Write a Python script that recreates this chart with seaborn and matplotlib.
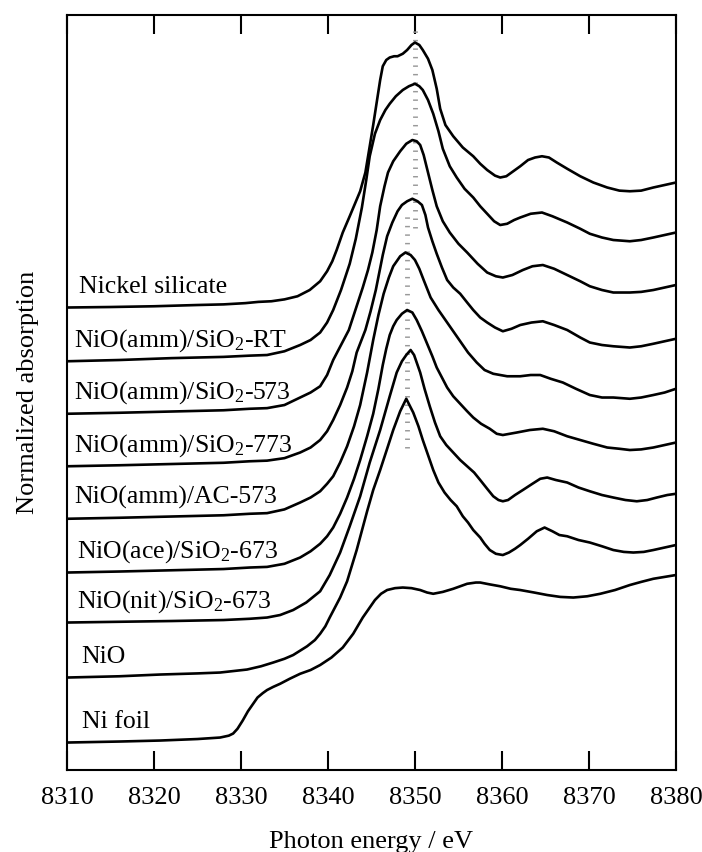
import numpy as np
import pandas as pd
import matplotlib
matplotlib.use("Agg")
import matplotlib.pyplot as plt
import seaborn as sns

# Ni K-edge XANES spectra, normalized absorption (stacked with vertical offsets)
samples = [
    "Nickel silicate",
    "NiO(amm)/SiO$_\\mathregular{2}$-RT",
    "NiO(amm)/SiO$_\\mathregular{2}$-573",
    "NiO(amm)/SiO$_\\mathregular{2}$-773",
    "NiO(amm)/AC-573",
    "NiO(ace)/SiO$_\\mathregular{2}$-673",
    "NiO(nit)/SiO$_\\mathregular{2}$-673",
    "NiO",
    "Ni foil",
]
offsets = [3.70, 3.27, 2.85, 2.43, 2.01, 1.58, 1.18, 0.74, 0.22]

e_silicate = [8310.0, 8315.0, 8320.0, 8325.0, 8328.0, 8330.5, 8332.0, 8333.5, 8335.0, 8336.5,
              8337.9, 8339.1, 8339.9, 8340.5, 8341.0, 8341.7, 8342.5, 8343.1, 8343.7, 8344.3,
              8344.8, 8345.2, 8345.6, 8346.0, 8346.3, 8346.7, 8347.1, 8347.6, 8348.0, 8348.6,
              8349.1, 8349.6, 8350.0, 8350.5, 8350.9, 8351.5, 8352.0, 8352.5, 8352.9, 8353.5,
              8354.4, 8355.5, 8356.7, 8357.5, 8358.3, 8359.2, 8359.8, 8360.5, 8361.3, 8362.1,
              8363.0, 8363.8, 8364.6, 8365.4, 8366.3, 8367.5, 8369.0, 8370.5, 8372.1, 8373.5,
              8374.7, 8376.0, 8377.4, 8378.7, 8380.0]
mu_silicate = [0.000, 0.004, 0.010, 0.020, 0.025, 0.035, 0.045, 0.050, 0.065, 0.090,
               0.140, 0.210, 0.290, 0.370, 0.460, 0.600, 0.730, 0.830, 0.930, 1.080,
               1.290, 1.460, 1.640, 1.820, 1.930, 1.980, 2.000, 2.010, 2.010, 2.030,
               2.060, 2.100, 2.120, 2.100, 2.060, 1.990, 1.900, 1.750, 1.590, 1.460,
               1.370, 1.280, 1.210, 1.150, 1.100, 1.055, 1.040, 1.050, 1.090, 1.130,
               1.180, 1.200, 1.210, 1.200, 1.160, 1.110, 1.050, 1.000, 0.960, 0.935,
               0.930, 0.935, 0.960, 0.980, 1.000]

e_amm_rt = [8310.0, 8316.0, 8322.0, 8328.0, 8331.0, 8333.0, 8335.0, 8336.8, 8338.0, 8339.1,
            8339.9, 8340.6, 8341.5, 8342.5, 8343.2, 8343.9, 8344.4, 8344.8, 8345.4, 8346.0,
            8346.6, 8347.1, 8347.8, 8348.6, 8349.3, 8350.0, 8350.5, 8350.9, 8351.5, 8352.1,
            8352.7, 8353.2, 8354.0, 8354.8, 8355.7, 8356.7, 8357.5, 8358.3, 8359.1, 8359.8,
            8360.6, 8361.4, 8362.1, 8363.3, 8364.6, 8365.8, 8367.5, 8369.0, 8370.1, 8371.5,
            8372.8, 8374.7, 8376.0, 8377.4, 8378.7, 8380.0]
mu_amm_rt = [0.000, 0.010, 0.025, 0.035, 0.045, 0.050, 0.080, 0.130, 0.170, 0.230,
             0.310, 0.410, 0.570, 0.780, 0.980, 1.230, 1.450, 1.640, 1.820, 1.930,
             2.010, 2.060, 2.120, 2.170, 2.200, 2.220, 2.200, 2.170, 2.090, 1.980,
             1.840, 1.700, 1.560, 1.470, 1.380, 1.310, 1.240, 1.180, 1.120, 1.090,
             1.100, 1.130, 1.150, 1.180, 1.190, 1.160, 1.110, 1.060, 1.020, 0.990,
             0.970, 0.960, 0.970, 0.990, 1.010, 1.030]

e_amm_573 = [8310.0, 8316.0, 8322.0, 8328.0, 8331.0, 8333.0, 8335.0, 8336.8, 8338.0, 8339.1,
             8339.9, 8340.6, 8341.5, 8342.4, 8343.2, 8344.0, 8344.6, 8345.1, 8345.6, 8346.0,
             8346.5, 8346.9, 8347.5, 8348.3, 8349.0, 8349.7, 8350.2, 8350.6, 8351.0, 8351.5,
             8352.0, 8352.5, 8353.2, 8354.0, 8355.0, 8356.0, 8357.2, 8358.3, 8359.3, 8360.1,
             8361.2, 8362.4, 8363.5, 8364.7, 8366.0, 8367.5, 8369.0, 8370.1, 8371.5, 8372.8,
             8374.7, 8376.0, 8377.4, 8378.7, 8380.0]
mu_amm_573 = [0.000, 0.008, 0.018, 0.028, 0.040, 0.045, 0.070, 0.130, 0.170, 0.220,
              0.310, 0.430, 0.550, 0.670, 0.840, 1.010, 1.150, 1.290, 1.470, 1.660,
              1.820, 1.930, 2.020, 2.100, 2.160, 2.190, 2.180, 2.150, 2.070, 1.930,
              1.790, 1.660, 1.540, 1.450, 1.360, 1.290, 1.200, 1.130, 1.100, 1.090,
              1.110, 1.150, 1.180, 1.190, 1.160, 1.110, 1.060, 1.020, 0.990, 0.970,
              0.970, 0.975, 0.990, 1.010, 1.030]

e_amm_773 = [8310.0, 8316.0, 8322.0, 8328.0, 8331.0, 8333.0, 8335.0, 8336.8, 8338.0, 8339.1,
             8339.9, 8340.6, 8341.4, 8342.2, 8342.8, 8343.3, 8343.8, 8344.3, 8344.9, 8345.5,
             8346.3, 8346.8, 8347.4, 8348.0, 8348.5, 8349.1, 8349.7, 8350.3, 8350.8, 8351.2,
             8351.5, 8352.0, 8352.5, 8353.1, 8353.7, 8354.4, 8355.2, 8356.0, 8356.7, 8357.5,
             8358.3, 8359.2, 8360.1, 8361.1, 8362.1, 8363.4, 8364.7, 8366.0, 8367.5, 8369.0,
             8370.1, 8371.5, 8372.8, 8374.7, 8376.0, 8377.4, 8378.7, 8380.0]
mu_amm_773 = [0.000, 0.008, 0.018, 0.028, 0.040, 0.045, 0.065, 0.110, 0.150, 0.210,
              0.280, 0.370, 0.490, 0.630, 0.760, 0.910, 1.000, 1.090, 1.240, 1.410,
              1.690, 1.840, 1.950, 2.040, 2.090, 2.120, 2.140, 2.120, 2.090, 2.010,
              1.910, 1.800, 1.700, 1.590, 1.490, 1.430, 1.380, 1.310, 1.250, 1.190,
              1.150, 1.110, 1.080, 1.100, 1.130, 1.150, 1.160, 1.130, 1.090, 1.030,
              0.990, 0.970, 0.960, 0.950, 0.960, 0.980, 1.000, 1.020]

e_amm_ac = [8310.0, 8316.0, 8322.0, 8328.0, 8331.0, 8333.0, 8335.0, 8336.8, 8338.0, 8339.1,
            8339.9, 8340.6, 8341.4, 8342.2, 8343.0, 8343.7, 8344.5, 8345.2, 8345.8, 8346.4,
            8347.0, 8347.5, 8348.3, 8348.9, 8349.5, 8350.0, 8350.5, 8351.0, 8351.8, 8352.7,
            8353.7, 8354.4, 8355.2, 8356.1, 8357.1, 8358.0, 8359.0, 8360.6, 8362.1, 8363.3,
            8364.4, 8365.6, 8367.0, 8368.5, 8370.1, 8371.5, 8372.8, 8374.7, 8376.0, 8377.4,
            8378.7, 8380.0]
mu_amm_ac = [0.000, 0.008, 0.018, 0.028, 0.040, 0.045, 0.075, 0.130, 0.170, 0.220,
             0.280, 0.340, 0.450, 0.580, 0.740, 0.910, 1.170, 1.430, 1.630, 1.800,
             1.930, 2.020, 2.100, 2.130, 2.110, 2.070, 2.000, 1.910, 1.770, 1.670,
             1.570, 1.500, 1.420, 1.330, 1.250, 1.190, 1.160, 1.140, 1.140, 1.150,
             1.150, 1.120, 1.090, 1.040, 0.990, 0.970, 0.970, 0.960, 0.970, 0.990,
             1.010, 1.040]

e_ace_673 = [8310.0, 8316.0, 8322.0, 8328.0, 8331.0, 8333.0, 8335.0, 8336.8, 8338.0, 8339.1,
             8339.9, 8340.6, 8341.4, 8342.2, 8343.0, 8343.7, 8344.5, 8345.2, 8345.8, 8346.3,
             8346.7, 8347.1, 8347.5, 8347.9, 8348.5, 8349.1, 8349.7, 8350.2, 8350.8, 8351.4,
             8352.0, 8352.5, 8353.1, 8353.7, 8354.4, 8355.2, 8356.0, 8356.7, 8357.6, 8358.6,
             8359.4, 8360.1, 8360.9, 8361.7, 8363.2, 8364.7, 8366.0, 8367.5, 8369.0, 8370.5,
             8372.1, 8373.5, 8374.7, 8376.0, 8377.4, 8378.7, 8380.0]
mu_ace_673 = [0.000, 0.008, 0.018, 0.028, 0.040, 0.045, 0.070, 0.120, 0.170, 0.230,
              0.290, 0.360, 0.470, 0.600, 0.750, 0.900, 1.090, 1.270, 1.470, 1.660,
              1.790, 1.900, 1.970, 2.020, 2.070, 2.100, 2.080, 2.020, 1.930, 1.830,
              1.730, 1.640, 1.560, 1.480, 1.410, 1.350, 1.290, 1.240, 1.190, 1.150,
              1.110, 1.100, 1.110, 1.120, 1.140, 1.150, 1.130, 1.090, 1.060, 1.030,
              1.000, 0.990, 0.980, 0.985, 1.000, 1.020, 1.040]

e_nit_673 = [8310.0, 8316.0, 8322.0, 8328.0, 8331.0, 8333.0, 8334.5, 8336.0, 8337.5, 8339.1,
             8340.2, 8341.4, 8342.5, 8343.7, 8344.8, 8346.0, 8347.1, 8347.9, 8348.5, 8349.0,
             8349.5, 8349.9, 8350.3, 8350.6, 8351.1, 8351.7, 8352.3, 8352.9, 8353.6, 8354.4,
             8355.2, 8356.0, 8356.8, 8357.5, 8358.3, 8359.0, 8359.6, 8360.1, 8360.7, 8361.5,
             8362.4, 8363.5, 8364.4, 8365.2, 8366.2, 8367.5, 8368.8, 8370.1, 8371.5, 8372.8,
             8374.2, 8375.5, 8376.7, 8377.8, 8379.0, 8380.0]
mu_nit_673 = [0.000, 0.006, 0.012, 0.020, 0.030, 0.040, 0.060, 0.100, 0.160, 0.250,
              0.380, 0.560, 0.770, 1.010, 1.280, 1.540, 1.810, 2.000, 2.090, 2.140,
              2.180, 2.140, 2.060, 2.000, 1.870, 1.730, 1.600, 1.490, 1.420, 1.360,
              1.300, 1.250, 1.200, 1.140, 1.070, 1.010, 0.980, 0.970, 0.980, 1.020,
              1.060, 1.110, 1.150, 1.160, 1.140, 1.120, 1.080, 1.050, 1.020, 1.000,
              0.980, 0.970, 0.980, 1.000, 1.020, 1.030]

e_nio = [8310.0, 8316.0, 8320.7, 8325.0, 8327.6, 8330.7, 8332.3, 8333.7, 8335.0, 8336.0,
         8337.6, 8338.5, 8339.1, 8339.7, 8340.2, 8341.4, 8342.2, 8343.3, 8344.5, 8345.2,
         8346.0, 8346.8, 8347.5, 8348.3, 8349.0, 8349.8, 8350.4, 8350.9, 8351.5, 8352.1,
         8352.7, 8353.4, 8354.1, 8354.8, 8355.5, 8356.1, 8356.7, 8357.5, 8358.0, 8358.6,
         8359.3, 8360.1, 8360.8, 8361.5, 8362.1, 8363.0, 8364.0, 8364.9, 8365.8, 8366.6,
         8367.5, 8368.8, 8370.1, 8371.5, 8372.8, 8374.0, 8375.1, 8376.3, 8377.4, 8378.7,
         8380.0]
mu_nio = [0.000, 0.010, 0.024, 0.033, 0.040, 0.064, 0.090, 0.120, 0.150, 0.180,
          0.250, 0.300, 0.350, 0.410, 0.480, 0.640, 0.770, 1.020, 1.330, 1.500,
          1.660, 1.830, 1.980, 2.130, 2.230, 2.120, 2.010, 1.900, 1.780, 1.660,
          1.560, 1.480, 1.420, 1.370, 1.290, 1.240, 1.180, 1.120, 1.070, 1.020,
          0.990, 0.980, 1.000, 1.030, 1.060, 1.110, 1.170, 1.200, 1.170, 1.140,
          1.130, 1.100, 1.080, 1.050, 1.020, 1.005, 1.000, 1.005, 1.020, 1.040,
          1.060]

e_ni_foil = [8310.0, 8316.0, 8320.7, 8325.0, 8327.6, 8328.6, 8329.1, 8329.6, 8330.2, 8330.8,
             8331.4, 8331.9, 8332.5, 8333.0, 8333.7, 8334.5, 8335.6, 8336.8, 8338.0, 8339.1,
             8340.4, 8341.7, 8342.9, 8344.0, 8344.7, 8345.4, 8346.1, 8346.8, 8347.7, 8348.6,
             8349.6, 8350.6, 8351.4, 8352.1, 8353.2, 8354.4, 8355.2, 8356.0, 8357.0, 8357.5,
             8358.6, 8359.8, 8361.0, 8362.1, 8363.7, 8365.2, 8366.7, 8368.2, 8369.8, 8371.3,
             8373.0, 8374.7, 8376.0, 8377.4, 8378.7, 8380.0]
mu_ni_foil = [0.000, 0.008, 0.016, 0.028, 0.040, 0.055, 0.072, 0.110, 0.176, 0.250,
              0.310, 0.360, 0.395, 0.420, 0.445, 0.470, 0.510, 0.550, 0.580, 0.620,
              0.680, 0.760, 0.870, 1.000, 1.070, 1.140, 1.190, 1.220, 1.235, 1.240,
              1.235, 1.220, 1.200, 1.190, 1.205, 1.230, 1.250, 1.270, 1.280, 1.280,
              1.265, 1.250, 1.230, 1.220, 1.200, 1.180, 1.165, 1.160, 1.170, 1.190,
              1.220, 1.260, 1.285, 1.310, 1.325, 1.340]

energies = [e_silicate, e_amm_rt, e_amm_573, e_amm_773, e_amm_ac,
            e_ace_673, e_nit_673, e_nio, e_ni_foil]
spectra = [mu_silicate, mu_amm_rt, mu_amm_573, mu_amm_773, mu_amm_ac,
           mu_ace_673, mu_nit_673, mu_nio, mu_ni_foil]

# white-line positions marked with dotted guides
white_line_energy = [8350.0, 8349.1]

frames = []
for name, e, mu, off in zip(samples, energies, spectra, offsets):
    frames.append(pd.DataFrame({
        "sample": name,
        "energy": e,
        "absorption": np.asarray(mu) + off,
    }))
df = pd.concat(frames, ignore_index=True)

sns.set_theme(style="ticks")
plt.rcParams["font.family"] = ["Liberation Serif", "DejaVu Serif"]
plt.rcParams["mathtext.fontset"] = "custom"
plt.rcParams["mathtext.rm"] = "Liberation Serif"
plt.rcParams["mathtext.it"] = "Liberation Serif:italic"

fig = plt.figure(figsize=(7.02, 8.52), dpi=100)
ax = fig.add_axes([0.0954, 0.0962, 0.8675, 0.8862])

# dotted guides through the white-line maxima
guide_spans = [(4.34, 5.94), (2.58, 4.46)]
for e0, (y0, y1) in zip(white_line_energy, guide_spans):
    ax.plot([e0, e0], [y0, y1], color="0.6", lw=3.5,
            ls=(0, (0.3, 1.45)), dash_capstyle="butt", zorder=1)

sns.lineplot(data=df, x="energy", y="absorption", units="sample",
             estimator=None, sort=False, color="black", linewidth=1.9,
             legend=False, ax=ax, zorder=3)
for line in ax.lines:
    line.set_solid_joinstyle("round")

# label x positions (eV) and placement above each baseline
label_x = [8311.4, 8310.8, 8310.8, 8310.8, 8310.8, 8311.2, 8311.2, 8311.7, 8311.7]
for name, off, lx in zip(samples, offsets, label_x):
    ax.text(lx, off + 0.12, name, fontsize=18.5, ha="left",
            va="baseline", color="black")

ax.set_xlim(8310, 8380)
ax.set_ylim(0, 6.04)
ax.set_xticks(np.arange(8310, 8381, 10))
ax.set_yticks([])
ax.tick_params(axis="x", direction="in", length=14, width=1.5, top=True,
               labelsize=19, pad=12, color="black", labelcolor="black")
for sp in ax.spines.values():
    sp.set_visible(True)
    sp.set_linewidth(1.5)
    sp.set_color("black")

ax.set_xlabel("Photon energy / eV", fontsize=19, labelpad=16, color="black")
ax.set_ylabel("Normalized absorption", fontsize=19, labelpad=20, color="black")

fig.savefig("out.png", dpi=100)
